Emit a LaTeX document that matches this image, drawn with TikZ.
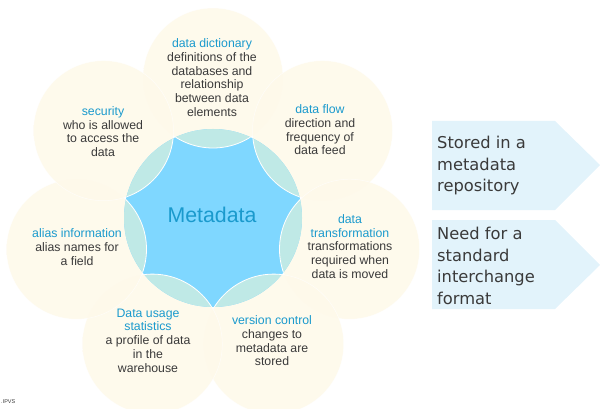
\documentclass[tikz,border=0pt]{standalone}
\usepackage{fontspec}
\setmainfont{Liberation Sans}
\newfontfamily\boxfont{DejaVu Sans}
\usetikzlibrary{positioning}
\definecolor{petalin}{HTML}{FEF9EA}
\definecolor{petalout}{HTML}{FCF0D2}
\definecolor{ringteal}{HTML}{BFE9E6}
\definecolor{coreblue}{HTML}{7FD7FF}
\definecolor{headblue}{HTML}{1A9ACD}
\definecolor{bodygray}{HTML}{3A3A3A}
\definecolor{tagfill}{HTML}{E2F3FB}
\pgfdeclareradialshading{petalshade}{\pgfpoint{0bp}{0bp}}{%
  color(0bp)=(petalin); color(32bp)=(petalin); color(50bp)=(petalout); color(52bp)=(petalout)}
\tikzset{
  petal/.style={shading=petalshade, opacity=0.9},
  petaledge/.style={draw=white, line width=0.5pt, opacity=0.7},
  ringpart/.style={fill=ringteal, draw=white, line width=0.8pt},
  petaltext/.style={align=center, inner sep=0pt, text=bodygray,
    font=\fontsize{12.3}{13.7}\selectfont},
  tagtext/.style={align=left, anchor=west, inner sep=0pt, text=bodygray,
    font=\boxfont\fontsize{16.3}{21.5}\selectfont}
}
\newcommand{\headline}[1]{\textcolor{headblue}{#1}}

\begin{document}
\begin{tikzpicture}[x=1pt,y=-1pt]
\useasboundingbox (0,0) rectangle (600,409);
% centre and petal centres
\coordinate (core) at (213,218);
\coordinate (dict) at (213,78);
\coordinate (flow) at (322.5,130.7);
\coordinate (trans) at (349.5,249.2);
\coordinate (vers) at (273.7,344.1);
\coordinate (usage) at (152.3,344.1);
\coordinate (alias) at (76.5,249.2);
\coordinate (sec) at (103.5,130.7);
% petals
\foreach \p in {dict,flow,trans,vers,usage,alias,sec}{
  \shade[petal] (\p) circle (70pt);
  \draw[petaledge] (\p) circle (70pt);
}
% core
\fill[coreblue] (core) circle (89pt);
\begin{scope}
  \clip (core) circle (89pt);
  \foreach \p in {dict,flow,trans,vers,usage,alias,sec}
    \filldraw[ringpart] (\p) circle (70pt);
\end{scope}
\node[text=headblue, font=\fontsize{21.3}{25}\selectfont] (meta) at (212,215) {Metadata};
% petal texts
\node[petaltext] (dicttxt) at (212,77.5) {\headline{data dictionary}\\definitions of the\\databases and\\relationship\\between data\\elements};
\node[petaltext] (sectxt) at (103,131.5) {\headline{security}\\who is allowed\\to access the\\data};
\node[petaltext] (flowtxt) at (320,130) {\headline{data flow}\\direction and\\frequency of\\data feed};
\node[petaltext] (transtxt) at (350,246.5) {\headline{data}\\\headline{transformation}\\transformations\\required when\\data is moved};
\node[petaltext] (aliastxt) at (77,247) {\headline{alias information}\\alias names for\\a field};
\node[petaltext] (usagetxt) at (148,340.5) {\headline{Data usage}\\\headline{statistics}\\a profile of data\\in the\\warehouse};
\node[petaltext] (verstxt) at (272,341) {\headline{version control}\\changes to\\metadata are\\stored};
% right tags
\fill[tagfill] (432,121) -- (555,121) -- (600,165) -- (555,210) -- (432,210) -- cycle;
\fill[tagfill] (432,220) -- (555,220) -- (600,265) -- (555,309) -- (432,309) -- cycle;
\node[tagtext] (tagone) at (437,166) {Stored in a\\metadata\\repository};
\node[tagtext] (tagtwo) at (437,266) {Need for a\\standard\\interchange\\format};
\node[text=bodygray, font=\fontsize{5.5}{6}\selectfont, inner sep=0pt, anchor=west] (credit) at (1,402) {.IPVS};
\end{tikzpicture}
\end{document}
